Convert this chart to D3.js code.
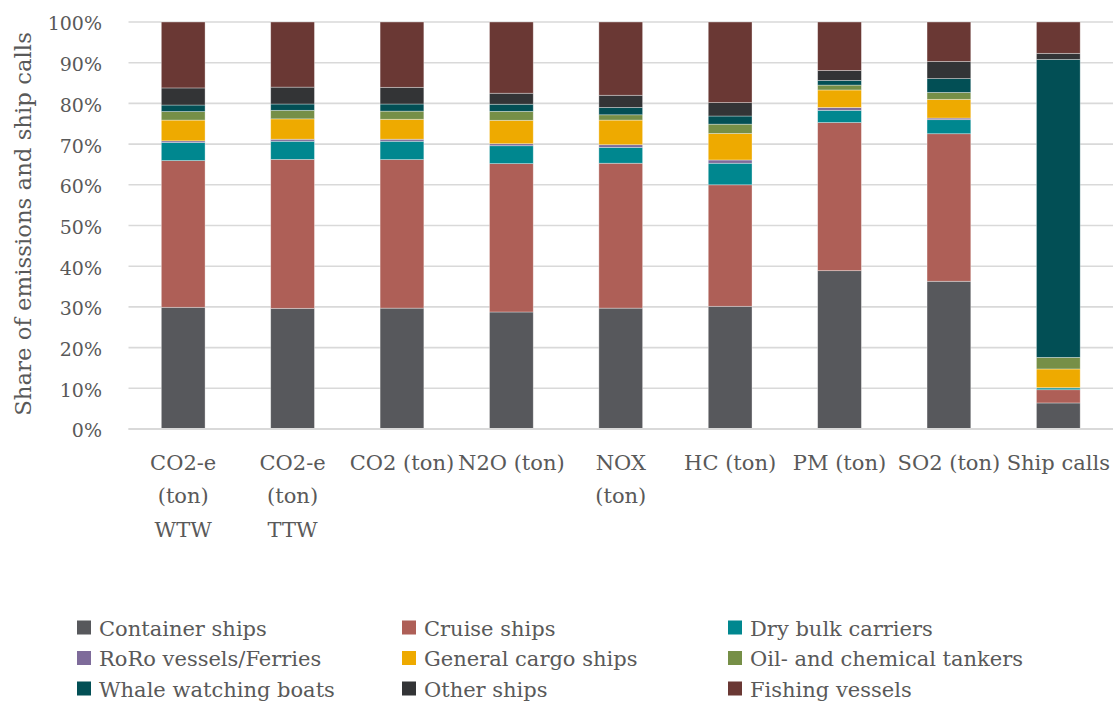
<!DOCTYPE html>
<html>
<head>
<meta charset="utf-8">
<script src="https://cdn.jsdelivr.net/npm/d3@7"></script>
<style>
  html, body { margin: 0; padding: 0; background: #fff; }
  svg { display: block; }
  text { font-family: "DejaVu Serif", "Liberation Serif", serif; fill: #595959; }
</style>
</head>
<body>
<svg id="chart" width="1113" height="701"></svg>
<script>
// Categories (emission type / ship calls) and how their axis labels wrap
const categories = ["CO2-e (ton) WTW", "CO2-e (ton) TTW", "CO2 (ton)", "N2O (ton)", "NOX (ton)",
                    "HC (ton)", "PM (ton)", "SO2 (ton)", "Ship calls"];
const categoryLabelLines = [["CO2-e", "(ton)", "WTW"], ["CO2-e", "(ton)", "TTW"], ["CO2 (ton)"], ["N2O (ton)"],
                            ["NOX", "(ton)"], ["HC (ton)"], ["PM (ton)"], ["SO2 (ton)"], ["Ship calls"]];

// Ship types, in stacking order (bottom to top)
const shipTypes = ["Container ships", "Cruise ships", "Dry bulk carriers", "RoRo vessels/Ferries",
                   "General cargo ships", "Oil- and chemical tankers", "Whale watching boats",
                   "Other ships", "Fishing vessels"];

// Share (%) of each category per ship type
const containerShips   = [29.9, 29.65, 29.7, 28.75, 29.7, 30.15, 38.9, 36.3, 6.4];
const cruiseShips      = [36.05, 36.6, 36.5, 36.45, 35.6, 29.85, 36.4, 36.25, 3.25];
const dryBulkCarriers  = [4.45, 4.45, 4.5, 4.4, 3.9, 5.3, 3.0, 3.45, 0.45];
const roroFerries      = [0.4, 0.5, 0.5, 0.5, 0.65, 0.8, 0.7, 0.4, 0.05];
const generalCargo     = [5.1, 5.0, 4.9, 5.75, 6.05, 6.5, 4.3, 4.6, 4.6];
const oilChemTankers   = [2.1, 2.1, 2.0, 2.2, 1.3, 2.3, 1.2, 1.7, 2.85];
const whaleWatching    = [1.6, 1.55, 1.75, 1.75, 1.8, 2.0, 1.15, 3.4, 73.2];
const otherShips       = [4.2, 4.15, 4.1, 2.7, 3.0, 3.3, 2.45, 4.2, 1.5];
const fishingVessels   = [16.2, 16.0, 16.05, 17.5, 18.0, 19.8, 11.9, 9.7, 7.7];

const seriesValues = [containerShips, cruiseShips, dryBulkCarriers, roroFerries, generalCargo,
                      oilChemTankers, whaleWatching, otherShips, fishingVessels];

const yTickValues = [0, 0.1, 0.2, 0.3, 0.4, 0.5, 0.6, 0.7, 0.8, 0.9, 1.0];

const colors = ["#57585c", "#ae5f57", "#00878f", "#7e6b9a", "#eeaa00",
                "#768f47", "#024f55", "#333436", "#6a3834"];

// Build row table for d3.stack
const rows = categories.map((c, i) => {
  const r = { category: c };
  shipTypes.forEach((s, j) => { r[s] = seriesValues[j][i]; });
  return r;
});

const stacked = d3.stack()
  .keys(shipTypes)
  .offset(d3.stackOffsetExpand)(rows);

const svg = d3.select("#chart");

const plot = { left: 128.5, right: 1113, top: 22, bottom: 429 };

const x = d3.scaleBand()
  .domain(categories)
  .range([plot.left, plot.right])
  .paddingInner(0.6)
  .paddingOuter(0.3);

const y = d3.scaleLinear().domain([0, 1]).range([plot.bottom, plot.top]);

const color = d3.scaleOrdinal().domain(shipTypes).range(colors);

// Gridlines
svg.append("g")
  .selectAll("line")
  .data(yTickValues)
  .join("line")
  .attr("x1", plot.left)
  .attr("x2", plot.right)
  .attr("y1", d => y(d))
  .attr("y2", d => y(d))
  .attr("stroke", "#d9d9d9")
  .attr("stroke-width", 1.6);

// Y axis labels
const yAxis = d3.axisLeft(y)
  .tickValues(yTickValues)
  .tickFormat(d3.format(".0%"))
  .tickSize(0)
  .tickPadding(0);

svg.append("g")
  .attr("transform", `translate(102,0)`)
  .call(yAxis)
  .call(g => g.select(".domain").remove())
  .call(g => g.selectAll("text")
    .attr("font-size", 19)
    .attr("font-family", "DejaVu Serif")
    .attr("fill", "#595959")
    .attr("dy", "0.42em"));

// Stacked bars
svg.append("g")
  .selectAll("g")
  .data(stacked)
  .join("g")
  .attr("fill", d => color(d.key))
  .selectAll("rect")
  .data(d => d)
  .join("rect")
  .attr("x", d => x(d.data.category))
  .attr("width", x.bandwidth())
  .attr("y", d => y(d[1]))
  .attr("height", d => y(d[0]) - y(d[1]))
  .attr("stroke", "rgba(255,255,255,0.45)")
  .attr("stroke-width", 0.75);

// Bottom axis line
svg.append("line")
  .attr("x1", plot.left)
  .attr("x2", plot.right)
  .attr("y1", plot.bottom)
  .attr("y2", plot.bottom)
  .attr("stroke", "#d9d9d9")
  .attr("stroke-width", 2);

// Category labels
const xLabels = svg.append("g")
  .selectAll("text")
  .data(categories)
  .join("text")
  .attr("text-anchor", "middle")
  .attr("font-size", 21)
  .attr("x", d => x(d) + x.bandwidth() / 2)
  .attr("y", 470);

xLabels.selectAll("tspan")
  .data((d, i) => categoryLabelLines[i])
  .join("tspan")
  .attr("x", function () { return d3.select(this.parentNode).attr("x"); })
  .attr("dy", (d, i) => i === 0 ? 0 : 33.3)
  .text(d => d);

// Y axis title
svg.append("text")
  .attr("transform", "translate(31,224) rotate(-90)")
  .attr("text-anchor", "middle")
  .attr("font-size", 22.8)
  .text("Share of emissions and ship calls");

// Legend: 3 columns x 3 rows
const legendCols = [77, 402, 728];
const legendRows = [628, 658.5, 689];
const legend = svg.append("g")
  .selectAll("g")
  .data(shipTypes)
  .join("g")
  .attr("transform", (d, i) => `translate(${legendCols[i % 3]},${legendRows[Math.floor(i / 3)]})`);

legend.append("rect")
  .attr("x", 0)
  .attr("y", -7.5)
  .attr("width", 14)
  .attr("height", 14)
  .attr("fill", d => color(d));

legend.append("text")
  .attr("x", 22)
  .attr("y", 0)
  .attr("dy", "0.36em")
  .attr("font-size", 21)
  .text(d => d);
</script>
</body>
</html>
